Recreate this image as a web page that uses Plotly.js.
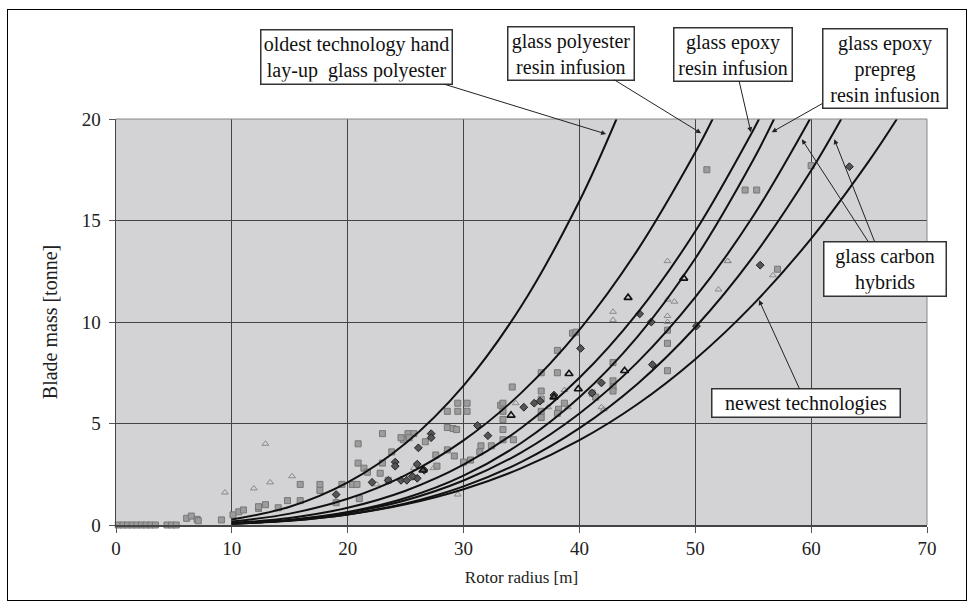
<!DOCTYPE html>
<html>
<head>
<meta charset="utf-8">
<script src="https://cdn.plot.ly/plotly-3.0.1.min.js"></script>
<style>
  html, body { margin: 0; padding: 0; background: #fff; }
  #chart { width: 975px; height: 609px; position: absolute; left: 0; top: 0; }
  #frame { position: absolute; left: 7px; top: 9px; width: 958px; height: 590px; border: 1.5px solid #000; pointer-events: none; }
</style>
</head>
<body>
<div id="chart"></div>
<div id="frame"></div>
<script>
// ---------- data ----------
const curveR = {
  oldest:      [10, 15, 20, 25, 30, 35, 40, 43.2],
  polyRI:      [10, 15, 20, 25, 30, 35, 40, 45, 50, 51.5],
  epoxyRI:     [10, 15, 20, 25, 30, 35, 40, 45, 50, 55, 55.5],
  prepreg:     [10, 15, 20, 25, 30, 35, 40, 45, 50, 55, 56.8],
  hybridA:     [10, 15, 20, 25, 30, 35, 40, 45, 50, 55, 59.9],
  hybridB:     [10, 15, 20, 25, 30, 35, 40, 45, 50, 55, 60, 62.6],
  newest:      [10, 15, 20, 25, 30, 35, 40, 45, 50, 55, 60, 65, 67.4]
};
const curveM = {
  oldest:      [0.27, 0.90, 2.10, 4.03, 6.87, 10.8, 15.96, 20],
  polyRI:      [0.17, 0.56, 1.29, 2.46, 4.17, 6.52, 9.61, 13.53, 18.36, 20],
  epoxyRI:     [0.10, 0.35, 0.85, 1.69, 2.97, 4.79, 7.25, 10.44, 14.47, 19.45, 20],
  prepreg:     [0.06, 0.25, 0.64, 1.33, 2.43, 4.05, 6.29, 9.27, 13.13, 17.98, 20],
  hybridA:     [0.07, 0.24, 0.60, 1.22, 2.19, 3.58, 5.49, 8.01, 11.22, 15.22, 20],
  hybridB:     [0.06, 0.21, 0.52, 1.06, 1.90, 3.11, 4.77, 6.95, 9.74, 13.22, 17.46, 20],
  newest:      [0.07, 0.22, 0.52, 1.02, 1.76, 2.80, 4.18, 5.95, 8.17, 10.87, 14.11, 17.94, 20]
};

// grey squares
const sqR = [0.2,0.6,1.0,1.4,1.8,2.2,2.6,3.0,3.4,4.4,4.8,5.2,6.1,6.5,7.0,7.1,9.1,10.1,10.6,11.0,12.3,12.3,12.9,14.0,14.8,15.9,15.9,17.6,17.6,19.5,20.4,20.8,20.9,20.9,21.4,21.7,23.0,23.8,24.8,25.2,25.7,23.0,22.8,23.5,26.7,24.6,25.3,28.6,29.5,30.3,30.3,29.5,28.6,29.1,29.4,31.5,31.4,28.6,29.2,30.6,30.0,27.6,27.7,33.2,34.2,38.1,38.1,36.7,36.7,33.4,33.4,33.4,33.4,33.4,36.7,36.7,36.7,38.2,38.7,39.4,39.7,42.9,42.9,42.9,42.9,41.1,41.4,47.6,47.6,47.6,51.0,54.3,55.3,57.1,60.0,34.3,32.4,38.1,21.0,19.0];
const sqM = [0,0,0,0,0,0,0,0,0,0,0,0,0.33,0.44,0.28,0.21,0.25,0.5,0.65,0.74,0.82,0.9,1.0,0.85,1.2,1.2,2.0,2.0,1.7,2.0,2.0,2.0,4.0,3.05,2.8,2.6,4.5,3.6,4.2,4.5,4.5,3.05,2.55,2.2,4.1,4.3,4.3,5.6,6.0,6.0,5.6,5.6,4.8,4.75,4.7,3.9,3.6,3.7,3.4,3.2,3.1,3.45,2.9,5.9,6.8,8.6,7.5,7.5,6.6,6.0,5.6,5.2,4.7,4.2,6.2,5.6,5.3,5.7,6.0,9.45,9.5,8.0,7.1,6.8,6.6,6.5,6.3,7.6,9.6,8.95,17.5,16.5,16.5,12.6,17.7,4.2,3.9,5.5,1.3,1.1];

// light open triangles
const triR = [9.4,11.9,12.9,13.3,15.2,25.7,25.2,29.5,34.5,37.3,38.7,42.9,42.9,47.6,48.2,47.6,47.6,47.6,52.8,52.0,56.7,41.9,42.1,39.0,27.4,22.5,52.8];
const triM = [1.6,1.8,4.0,2.1,2.4,2.8,2.3,1.5,6.0,5.8,6.65,10.5,10.1,11.1,11.0,10.3,10.0,13.0,13.0,11.6,12.3,5.8,5.7,5.8,2.8,2.0,13.0];

// bold black open triangles
const btR = [39.1,39.9,44.2,43.9,49.0,34.1,26.5,37.8];
const btM = [7.45,6.7,11.2,7.6,12.15,5.4,2.7,6.3];

// dark diamonds
const dmR = [22.1,23.5,24.6,24.1,24.1,26.1,27.2,27.2,31.2,32.1,35.2,36.1,40.1,41.1,41.9,45.2,46.2,46.3,50.1,55.6,63.3,26.0,26.6,26.0,25.1,25.6,37.8,36.6,19.0];
const dmM = [2.1,2.2,2.2,3.1,2.9,3.8,4.5,4.3,4.9,4.4,5.8,6.0,8.7,6.5,7.0,10.4,10.0,7.9,9.8,12.8,17.65,3.0,2.7,2.3,2.2,2.4,6.4,6.1,1.5];

// annotation texts
const labels = {
  oldest: 'oldest technology hand<br>lay-up  glass polyester',
  polyRI: 'glass polyester<br>resin infusion',
  epoxyRI: 'glass epoxy<br>resin infusion',
  prepreg: 'glass epoxy<br>prepreg<br>resin infusion',
  hybrids: 'glass carbon<br>hybrids',
  newest: 'newest technologies'
};
const xTitle = 'Rotor radius [m]';
const yTitle = 'Blade mass [tonne]';

// ---------- traces ----------
const serif = 'Liberation Serif, Times New Roman, serif';
const traces = [];
traces.push({x: sqR, y: sqM, type: 'scatter', mode: 'markers', cliponaxis: false,
  marker: {symbol: 'square', size: 6, color: '#9c9c9c', line: {color: '#777', width: 1}}, hoverinfo: 'skip'});
traces.push({x: triR, y: triM, type: 'scatter', mode: 'markers', cliponaxis: false,
  marker: {symbol: 'triangle-up-open', size: 6, color: '#8a8a8a', line: {width: 1}}, hoverinfo: 'skip'});
traces.push({x: dmR, y: dmM, type: 'scatter', mode: 'markers', cliponaxis: false,
  marker: {symbol: 'diamond', size: 6, color: '#555', line: {color: '#222', width: 1}}, hoverinfo: 'skip'});
traces.push({x: btR, y: btM, type: 'scatter', mode: 'markers', cliponaxis: false,
  marker: {symbol: 'triangle-up-open', size: 7, color: '#111', line: {width: 1.6}}, hoverinfo: 'skip'});
Object.keys(curveR).forEach(k => {
  traces.push({x: curveR[k], y: curveM[k], type: 'scatter', mode: 'lines',
    line: {color: '#111', width: 2, shape: 'spline', smoothing: 1}, hoverinfo: 'skip'});
});

// ---------- annotations ----------
function box(text, x, y, ax, ay, w) {
  return {x: x, y: y, xref: 'x', yref: 'y', ax: ax, ay: ay, text: text, showarrow: true,
    arrowhead: 2, arrowsize: 1, arrowwidth: 1, arrowcolor: '#222', width: w,
    font: {family: serif, size: 20, color: '#111'}, bgcolor: '#fff',
    bordercolor: '#333', borderwidth: 1.5, borderpad: 2, align: 'center'};
}
function bare(x, y, ax, ay) {
  return {x: x, y: y, xref: 'x', yref: 'y', ax: ax, ay: ay, text: '', showarrow: true,
    arrowhead: 2, arrowsize: 1, arrowwidth: 1, arrowcolor: '#222'};
}
const annotations = [
  bare(59.2, 19.0, 84, 129.5),
  box(labels.oldest, 42.3, 19.26, -250, -77, 186),
  box(labels.polyRI, 50.5, 19.3, -130, -80, 121),
  box(labels.epoxyRI, 54.8, 19.35, -18, -78, 113),
  box(labels.prepreg, 56.6, 19.35, 113, -64, 119),
  box(labels.hybrids, 62.0, 19.0, 51, 129.5, 117),
  box(labels.newest, 55.5, 11.08, 47, 103, 183)
];

const layout = {
  width: 975, height: 609,
  margin: {l: 116, r: 48, t: 119, b: 84},
  paper_bgcolor: '#fff', plot_bgcolor: '#d3d3d5',
  showlegend: false,
  font: {family: serif, size: 19, color: '#222'},
  xaxis: {range: [0, 70], tickvals: [0,10,20,30,40,50,60,70], ticks: 'outside', ticklen: 6,
    tickcolor: '#555', showgrid: true, gridcolor: '#444', gridwidth: 1, zeroline: false,
    showline: true, linecolor: '#444', linewidth: 1.5, mirror: false,
    tickfont: {family: serif, size: 19, color: '#222'},
    title: {text: xTitle, font: {family: serif, size: 17, color: '#222'}, standoff: 13}},
  yaxis: {range: [0, 20], tickvals: [0,5,10,15,20], ticks: 'outside', ticklen: 6,
    tickcolor: '#555', showgrid: true, gridcolor: '#444', gridwidth: 1, zeroline: false,
    showline: true, linecolor: '#444', linewidth: 1.5, ticklabelstandoff: 4,
    tickfont: {family: serif, size: 19, color: '#222'},
    title: {text: yTitle, font: {family: serif, size: 20, color: '#222'}, standoff: 18}},
  shapes: [
    {type: 'line', xref: 'paper', yref: 'paper', x0: 1, x1: 1, y0: 0, y1: 1, line: {color: '#888', width: 1}},
    {type: 'line', xref: 'paper', yref: 'paper', x0: 0, x1: 1, y0: 1, y1: 1, line: {color: '#888', width: 1}}
  ],
  annotations: annotations
};

Plotly.newPlot('chart', traces, layout, {staticPlot: true, displayModeBar: false});
</script>
</body>
</html>
